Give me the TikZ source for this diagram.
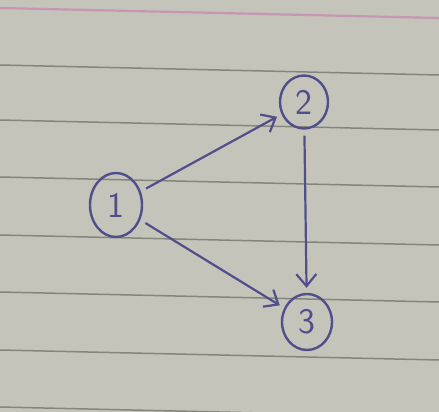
\documentclass[tikz,border=0pt]{standalone}
\usepackage{tikz}
\usetikzlibrary{arrows.meta,shapes.geometric}

\begin{document}
\begin{tikzpicture}[
    x=1pt, y=-1pt,
    vertex/.style={draw=ink, ellipse, line width=2.4pt, text=ink, inner sep=0pt,
      font=\sffamily\fontsize{36}{36}\selectfont},
    edge/.style={draw=ink, line width=2.2pt, -{Straight Barb[length=12pt, width=20pt, line width=2.2pt]}, shorten >=5pt, shorten <=6pt}
  ]
    \definecolor{paper}{RGB}{196,196,186}
    \definecolor{rule}{RGB}{132,134,124}
    \definecolor{margin}{RGB}{200,150,180}
    \definecolor{ink}{RGB}{82,78,140}

    \useasboundingbox (0,0) rectangle (439,412);
    \fill[paper] (0,0) rectangle (439,412);
    \draw[margin, line width=2.2pt] (0,8) -- (439,18);
    \foreach \ry in {65,120,177,235,292,350,407}
      \draw[rule, line width=1.5pt] (0,\ry) -- (439,\ry+10);

    \node[vertex, minimum width=52pt, minimum height=64pt] (one) at (116,205) {1};
    \node[vertex, minimum width=48pt, minimum height=53pt] (two) at (304,102) {2};
    \node[vertex, minimum width=50pt, minimum height=56pt] (three) at (307,322) {3};

    \draw[edge] (one) -- (two);
    \draw[edge] (one) -- (three);
    \draw[edge] (two) -- (three);
\end{tikzpicture}
\end{document}
